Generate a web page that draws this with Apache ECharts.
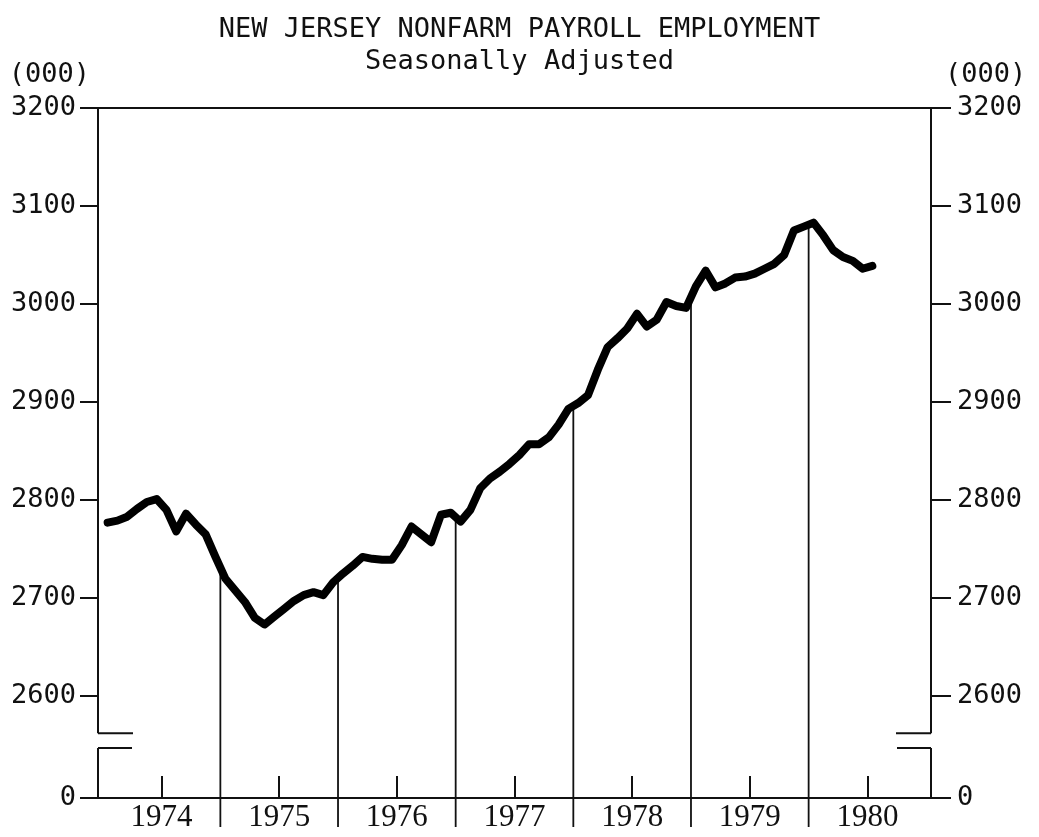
<!DOCTYPE html>
<html>
<head>
<meta charset="utf-8">
<script src="https://cdn.jsdelivr.net/npm/echarts@6/dist/echarts.min.js"></script>
<style>
  html, body { margin: 0; padding: 0; background: #fff; }
  #chart { width: 1039px; height: 837px; }
</style>
</head>
<body>
<div id="chart"></div>
<script>
// years on the time axis, monthly payroll (thousands) Jan 1974 .. Jul 1980
const years = [1974, 1975, 1976, 1977, 1978, 1979, 1980]
const payroll = [
  2777, 2779, 2783, 2791, 2798, 2801, 2790, 2768, 2786, 2775, 2765, 2742,
  2720, 2708, 2696, 2680, 2673, 2681, 2689, 2697, 2703, 2706, 2703, 2716,
  2725, 2733, 2742, 2740, 2739, 2739, 2754, 2773, 2765, 2757, 2785, 2787,
  2778, 2790, 2812, 2822, 2829, 2837, 2846, 2857, 2857, 2864, 2877, 2893,
  2899, 2907, 2933, 2956, 2965, 2975, 2990, 2977, 2984, 3002, 2998, 2996,
  3018, 3034, 3017, 3021, 3027, 3028, 3031, 3036, 3041, 3050, 3075, 3079,
  3083, 3070, 3055, 3048, 3044, 3036, 3039
]
const yTickLabels = [0, 2600, 2700, 2800, 2900, 3000, 3100, 3200]
const breakGap = [2547, 2562]   // axis is cut between these

// where "0" sits on the broken scale
const floorVal = 2496
const xMin = 1973.96, xMax = 1981.04

const lineData = payroll.map((v, i) => [years[0] + (i + 0.5) / 12, v])
const yTickPos = yTickLabels.map(v => v === 0 ? floorVal : v)
const midYears = years.map(y => y + 0.5)
// year separators reach up to the curve between Dec and Jan
const sepData = years.slice(1).map(y => {
  const i = (y - years[0]) * 12
  return [y, (payroll[i - 1] + payroll[i]) / 2]
})

const mono = 'DejaVu Sans Mono'

const chart = echarts.init(document.getElementById('chart'))
const option = {
  animation: false,
  backgroundColor: '#fff',
  title: {
    text: 'NEW JERSEY NONFARM PAYROLL EMPLOYMENT\nSeasonally Adjusted',
    left: 'center',
    top: 9,
    textStyle: {
      fontFamily: mono,
      fontSize: 27,
      fontWeight: 'normal',
      color: '#111',
      lineHeight: 32,
      align: 'center'
    }
  },
  grid: { left: 98, right: 108, top: 108, bottom: 39 },
  xAxis: [
    {
      type: 'value',
      min: xMin,
      max: xMax,
      axisLine: { show: true, lineStyle: { color: '#111', width: 2 } },
      axisTick: {
        show: true,
        inside: true,
        length: 22,
        customValues: midYears,
        lineStyle: { color: '#111', width: 2 }
      },
      axisLabel: {
        customValues: midYears,
        formatter: v => String(Math.floor(v)),
        fontFamily: 'Liberation Serif',
        fontSize: 31,
        color: '#111',
        margin: 4
      },
      splitLine: { show: false }
    },
    {
      type: 'value',
      position: 'top',
      min: xMin,
      max: xMax,
      axisLine: { show: true, lineStyle: { color: '#111', width: 2 } },
      axisTick: { show: false },
      axisLabel: { show: false },
      splitLine: { show: false }
    }
  ],
  yAxis: [
    {
      type: 'value',
      position: 'left',
      min: floorVal,
      max: 3200,
      name: '(000)',
      nameLocation: 'end',
      nameGap: 33,
      nameTextStyle: {
        fontFamily: mono, fontSize: 27, color: '#111',
        align: 'right', verticalAlign: 'middle', padding: [0, 8, 0, 0]
      },
      axisLine: { show: false },
      axisTick: {
        show: true, length: 18, customValues: yTickPos,
        lineStyle: { color: '#111', width: 2 }
      },
      axisLabel: {
        customValues: yTickPos,
        formatter: v => v < 2600 ? '0' : String(v),
        fontFamily: mono, fontSize: 27, color: '#111', margin: 22
      },
      splitLine: { show: false }
    },
    {
      type: 'value',
      position: 'right',
      min: floorVal,
      max: 3200,
      name: '(000)',
      nameLocation: 'end',
      nameGap: 33,
      nameTextStyle: {
        fontFamily: mono, fontSize: 27, color: '#111',
        align: 'left', verticalAlign: 'middle', padding: [0, 0, 0, 14]
      },
      axisLine: { show: false },
      axisTick: {
        show: true, length: 20, customValues: yTickPos,
        lineStyle: { color: '#111', width: 2 }
      },
      axisLabel: {
        customValues: yTickPos,
        formatter: v => v < 2600 ? '0' : String(v),
        fontFamily: mono, fontSize: 27, color: '#111', margin: 26
      },
      splitLine: { show: false }
    }
  ],
  series: [
    {
      // side axes with the break
      type: 'custom',
      silent: true,
      clip: false,
      data: [[xMin, 3200], [xMax, 3200]],
      renderItem: (params, api) => {
        const x = api.value(0)
        const dir = params.dataIndex === 0 ? 1 : -1
        const top = api.coord([x, 3200])
        const hi = api.coord([x, breakGap[1]])
        const lo = api.coord([x, breakGap[0]])
        const bot = api.coord([x, floorVal])
        const st = { stroke: '#111', lineWidth: 2 }
        const seg = (a, b) => ({ type: 'line', shape: { x1: a[0], y1: a[1], x2: b[0], y2: b[1] }, style: st })
        return {
          type: 'group',
          children: [
            seg(top, hi),
            seg(hi, [hi[0] + dir * 35, hi[1]]),
            seg([lo[0], lo[1]], [lo[0] + dir * 34, lo[1]]),
            seg(lo, bot)
          ]
        }
      }
    },
    {
      // year separators, from the curve down past the axis
      type: 'custom',
      silent: true,
      clip: false,
      data: sepData,
      renderItem: (params, api) => {
        const p = api.coord([api.value(0), api.value(1)])
        const b = api.coord([api.value(0), floorVal])
        return {
          type: 'line',
          shape: { x1: p[0], y1: p[1], x2: b[0], y2: b[1] + 29 },
          style: { stroke: '#111', lineWidth: 1.8 }
        }
      }
    },
    {
      name: 'Payroll',
      type: 'line',
      data: lineData,
      symbol: 'none',
      z: 5,
      lineStyle: { color: '#000', width: 8, cap: 'round', join: 'round' }
    }
  ]
}
chart.setOption(option)
</script>
</body>
</html>
